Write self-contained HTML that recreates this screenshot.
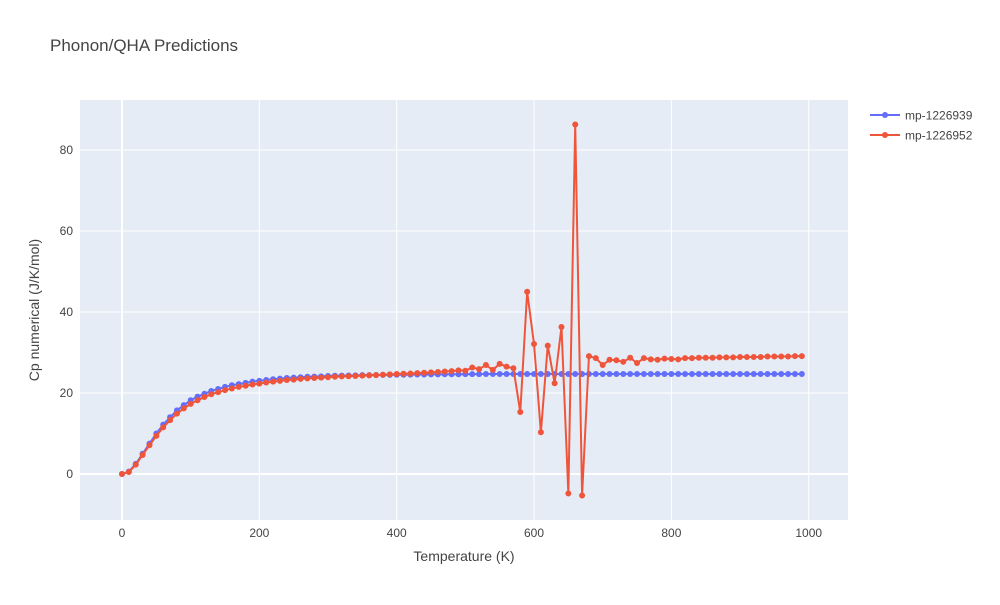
<!DOCTYPE html>
<html><head><meta charset="utf-8"><style>
body{margin:0;background:#fff;font-family:"Liberation Sans",Arial,sans-serif}
svg text{font-family:"Liberation Sans",Arial,sans-serif}
</style></head><body>
<svg id="chart" width="1000" height="600" xmlns="http://www.w3.org/2000/svg">
<rect width="1000" height="600" fill="#fff"/>
<text x="50" y="51" font-size="17" fill="#444">Phonon/QHA Predictions</text>
<rect x="80" y="100" width="768" height="420" fill="#e5ecf6"/>
<g id="grid"></g>
<g id="series"></g>
<text x="464" y="561" font-size="14" fill="#444" text-anchor="middle">Temperature (K)</text>
<text transform="translate(39,310) rotate(-90)" font-size="14" fill="#444" text-anchor="middle">Cp numerical (J/K/mol)</text>
<g>
<g>
<line x1="870" y1="115" x2="900" y2="115" stroke="#636efa" stroke-width="2"/><circle cx="885" cy="115" r="3" fill="#636efa"/>
<text x="905" y="119.5" font-size="12" fill="#444">mp-1226939</text></g>
<g>
<line x1="870" y1="135" x2="900" y2="135" stroke="#ef553b" stroke-width="2"/><circle cx="885" cy="135" r="3" fill="#ef553b"/>
<text x="905" y="139.5" font-size="12" fill="#444">mp-1226952</text></g>
</g>
</svg>
<script>
const temps=[];for(let t=0;t<=990;t+=10)temps.push(t);
const blueVals=[0,0.6,2.5,5,7.5,10,12.2,14,15.7,17,18.2,19.1,19.8,20.5,21,21.5,21.9,22.2,22.5,22.8,23,23.2,23.4,23.55,23.7,23.8,23.9,24,24.05,24.1,24.2,24.25,24.3,24.33,24.36,24.4,24.42,24.44,24.46,24.48,24.5,24.52,24.54,24.56,24.58,24.6,24.61,24.62,24.63,24.64,24.65,24.66,24.67,24.68,24.68,24.69,24.69,24.7,24.7,24.7,24.7,24.7,24.7,24.7,24.7,24.7,24.7,24.7,24.7,24.7,24.7,24.7,24.7,24.7,24.7,24.7,24.7,24.7,24.7,24.7,24.7,24.7,24.7,24.7,24.7,24.7,24.7,24.7,24.7,24.7,24.7,24.7,24.7,24.7,24.7,24.7,24.7,24.7,24.7,24.7];
const redVals=[0,0.5,2.3,4.7,7.1,9.4,11.5,13.3,14.9,16.2,17.3,18.2,19,19.7,20.2,20.7,21.1,21.5,21.8,22.1,22.3,22.6,22.8,23,23.2,23.3,23.5,23.6,23.7,23.8,23.9,24,24.1,24.15,24.2,24.3,24.35,24.4,24.5,24.6,24.7,24.75,24.8,24.9,25,25.1,25.2,25.3,25.4,25.6,25.5,26.3,25.9,26.9,25.7,27.2,26.5,26.1,15.3,45,32.1,10.3,31.7,22.4,36.3,-4.8,86.3,-5.3,29.1,28.6,26.9,28.2,28.1,27.7,28.7,27.4,28.6,28.3,28.2,28.5,28.4,28.3,28.6,28.6,28.7,28.7,28.7,28.8,28.8,28.8,28.9,28.9,28.9,28.9,29,29,29,29,29.1,29.1];
const xTicks=[0,200,400,600,800,1000];
const yTicks=[0,20,40,60,80];
const X=v=>122+v*0.6867, Y=v=>474-v*4.05;
const NS="http://www.w3.org/2000/svg";
const grid=document.getElementById('grid'), ser=document.getElementById('series'), svg=document.getElementById('chart');
function mk(tag,attrs,parent){const e=document.createElementNS(NS,tag);for(const k in attrs)e.setAttribute(k,attrs[k]);parent.appendChild(e);return e;}
xTicks.forEach(t=>{const x=X(t);
 if(x<848){const l=mk('line',{x1:x,x2:x,y1:100,y2:520,stroke:'#fff','stroke-width':t===0?2:1},grid);
 
 }
 const tx=mk('text',{x:x,y:537,'font-size':12,fill:'#444','text-anchor':'middle'},svg);tx.textContent=t;
 
 
});
yTicks.forEach(t=>{const y=Y(t);
 const l=mk('line',{x1:80,x2:848,y1:y,y2:y,stroke:'#fff','stroke-width':t===0?2:1},grid);
 
 
 const tx=mk('text',{x:73,y:y+4,'font-size':12,fill:'#444','text-anchor':'end'},svg);tx.textContent=t;
 
 
});
function draw(vals,color,name){
 const g=mk('g',{},ser);
 
 
 const p=mk('polyline',{points:vals.map((v,i)=>X(temps[i])+','+Y(v)).join(' '),fill:'none',stroke:color,'stroke-width':2},g);
 
 
 vals.forEach((v,i)=>{const c=mk('circle',{cx:X(temps[i]),cy:Y(v),r:3,fill:color},g);
  
  });
}
draw(blueVals,'#636efa','series-mp-1226939');
draw(redVals,'#ef553b','series-mp-1226952');
</script>
</body></html>
